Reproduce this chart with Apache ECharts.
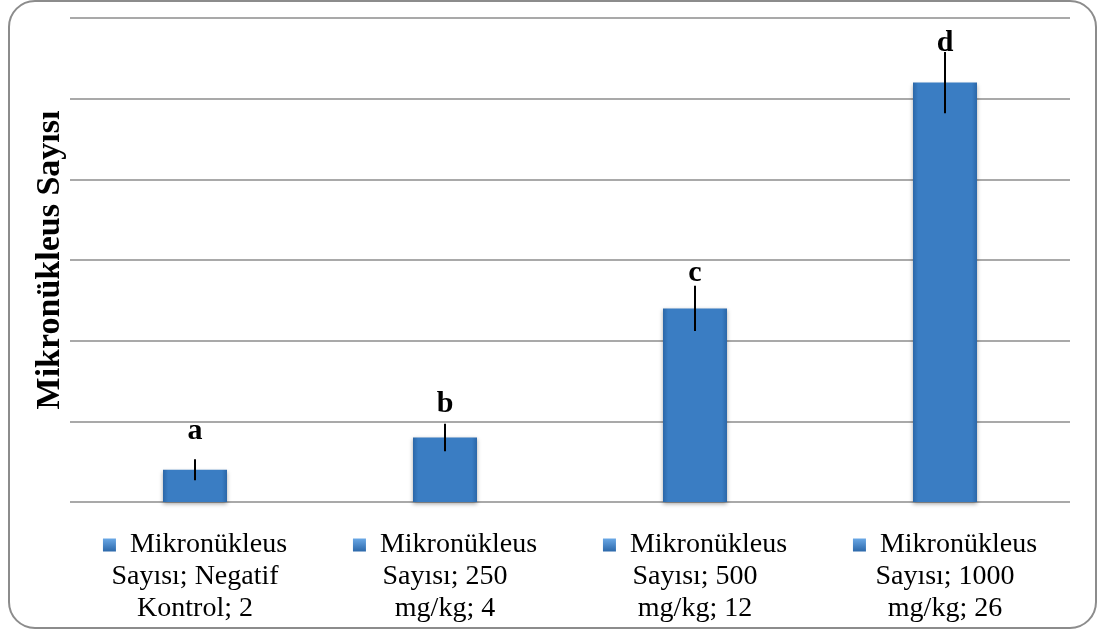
<!DOCTYPE html>
<html>
<head>
<meta charset="utf-8">
<script src="https://cdn.jsdelivr.net/npm/echarts@6/dist/echarts.min.js"></script>
<style>
html,body{margin:0;padding:0;background:#fff;}
#chart{width:1105px;height:630px;}
</style>
</head>
<body>
<div id="chart"></div>
<script>
var categoryLines = [
  ['Mikronükleus', 'Sayısı; Negatif', 'Kontrol; 2'],
  ['Mikronükleus', 'Sayısı; 250', 'mg/kg; 4'],
  ['Mikronükleus', 'Sayısı; 500', 'mg/kg; 12'],
  ['Mikronükleus', 'Sayısı; 1000', 'mg/kg; 26']
];
var values = [2, 4, 12, 26];
var errors = [0.65, 0.85, 1.4, 1.9];
var letters = ['a', 'b', 'c', 'd'];
var letterLevels = [3.8, 5.5, 13.6, 27.9];
var yTitle = 'Mikronükleus Sayısı';

var categories = categoryLines.map(function (l) { return l.join(' '); });

var chart = echarts.init(document.getElementById('chart'));
var serif = '"Liberation Serif", "Times New Roman", serif';

var option = {
  animation: false,
  backgroundColor: '#ffffff',
  textStyle: { fontFamily: serif },
  graphic: [{
    type: 'rect',
    shape: { x: 9, y: 1, width: 1087, height: 627, r: 26 },
    style: { fill: 'none', stroke: '#8c8c8c', lineWidth: 2 },
    z: 100
  }],
  grid: { left: 70, right: 35, top: 18, bottom: 128 },
  xAxis: {
    type: 'category',
    data: categories,
    axisLine: { show: false },
    axisTick: { show: false },
    axisLabel: {
      margin: 27,
      interval: 0,
      fontFamily: serif,
      fontSize: 28,
      color: '#000',
      formatter: function (v, i) {
        var l = categoryLines[i];
        return '{icon|}  {t|' + l[0] + '}\n{t|' + l[1] + '}\n{t|' + l[2] + '}';
      },
      rich: {
        icon: {
          width: 13, height: 13,
          backgroundColor: {
            type: 'linear', x: 0, y: 0, x2: 0, y2: 1,
            colorStops: [{ offset: 0, color: '#6aa8e6' }, { offset: 1, color: '#2c68aa' }]
          },
          verticalAlign: 'middle'
        },
        t: { fontFamily: serif, fontSize: 28, color: '#000', lineHeight: 32 }
      },
      align: 'center',
      lineHeight: 32
    }
  },
  yAxis: {
    type: 'value',
    min: 0, max: 30, interval: 5,
    name: yTitle,
    nameLocation: 'middle',
    nameGap: 3,
    nameTextStyle: { fontFamily: serif, fontSize: 34, fontWeight: 'bold', color: '#000' },
    axisLabel: { show: false },
    axisLine: { show: false },
    axisTick: { show: false },
    splitLine: { lineStyle: { color: '#8c8c8c', width: 1.5 } }
  },
  series: [{
    type: 'bar',
    data: values,
    barWidth: 64,
    itemStyle: {
      color: {
        type: 'linear', x: 0, y: 0, x2: 1, y2: 0,
        colorStops: [
          { offset: 0, color: '#2b67a8' },
          { offset: 0.08, color: '#3a7dc3' },
          { offset: 0.92, color: '#3a7dc3' },
          { offset: 1, color: '#2b67a8' }
        ]
      },
      shadowBlur: 4,
      shadowColor: 'rgba(0,0,0,0.35)',
      shadowOffsetY: 2
    },
    z: 2
  }, {
    type: 'custom',
    data: values.map(function (v, i) { return [i, v - errors[i], v + errors[i]]; }),
    renderItem: function (params, api) {
      var lo = api.coord([api.value(0), api.value(1)]);
      var hi = api.coord([api.value(0), api.value(2)]);
      return {
        type: 'line',
        shape: { x1: lo[0], y1: lo[1], x2: hi[0], y2: hi[1] },
        style: { stroke: '#000', lineWidth: 2 }
      };
    },
    z: 5
  }, {
    type: 'custom',
    data: letterLevels.map(function (v, i) { return [i, v]; }),
    renderItem: function (params, api) {
      var p = api.coord([api.value(0), api.value(1)]);
      return {
        type: 'text',
        style: {
          x: p[0], y: p[1] + 6,
          text: letters[params.dataIndex],
          fontFamily: serif, fontSize: 30, fontWeight: 'bold',
          fill: '#000', align: 'center', verticalAlign: 'bottom'
        }
      };
    },
    z: 6
  }]
};
chart.setOption(option);
</script>
</body>
</html>
